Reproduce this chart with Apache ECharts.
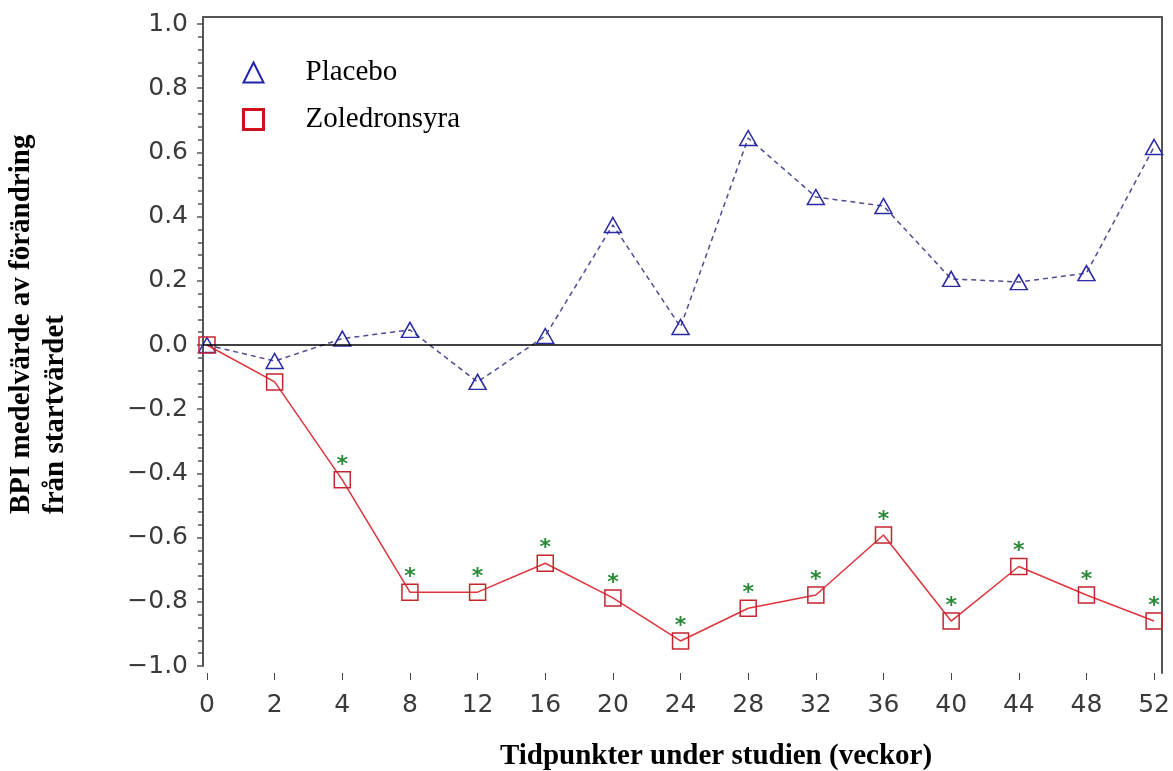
<!DOCTYPE html>
<html>
<head>
<meta charset="utf-8">
<script src="https://cdn.jsdelivr.net/npm/echarts@6/dist/echarts.min.js"></script>
<style>
html,body{margin:0;padding:0;background:#fff;}
#chart{width:1173px;height:771px;}
</style>
</head>
<body>
<div id="chart"></div>
<script>
// ---- data ----
const weeks = ['0','2','4','8','12','16','20','24','28','32','36','40','44','48','52'];
const placebo = [0.0, -0.05, 0.02, 0.047, -0.115, 0.028, 0.374, 0.056, 0.645, 0.461, 0.433, 0.206, 0.196, 0.224, 0.617];
const zoledronsyra = [0.0, -0.115, -0.42, -0.77, -0.77, -0.68, -0.788, -0.922, -0.82, -0.779, -0.592, -0.86, -0.69, -0.779, -0.86];
const significant = [false, false, true, true, true, true, true, true, true, true, true, true, true, true, true];
const seriesNames = ['Placebo', 'Zoledronsyra'];
const yMin = -1.0, yMax = 1.0, yStep = 0.2;
const xTitle = 'Tidpunkter under studien (veckor)';
const yTitle1 = 'BPI medelvärde av förändring';
const yTitle2 = 'från startvärdet';

// ---- chart ----
const idx = weeks.map((w, i) => i);
const X_MIN = -0.059, X_MAX = weeks.length - 1 + 0.103;
const tickFont = {fontFamily: 'DejaVu Sans', fontSize: 25, fontWeight: 'normal', color: '#3a3a3a'};
const frameLine = {show: true, onZero: false, lineStyle: {color: '#555', width: 2}};
const noAxisBits = {axisTick: {show: false}, axisLabel: {show: false}, splitLine: {show: false}};

const chart = echarts.init(document.getElementById('chart'), null, {renderer: 'canvas'});
const option = {
  animation: false,
  backgroundColor: '#fff',
  grid: [
    {left: 203, right: 11, top: 24, bottom: 105},
    {left: 203, right: 11, top: 17, bottom: 105},
    {left: 203, right: 11, top: 17, bottom: 98}
  ],
  xAxis: [
    {
      gridIndex: 0, type: 'value', min: X_MIN, max: X_MAX, offset: 7,
      axisLine: {show: false, onZero: false}, splitLine: {show: false},
      axisTick: {show: true, customValues: idx, length: 7, lineStyle: {color: '#444', width: 1}},
      axisLabel: Object.assign({customValues: idx, margin: 20, formatter: v => weeks[Math.round(v)]}, tickFont)
    },
    Object.assign({gridIndex: 1, type: 'value', position: 'top', axisLine: frameLine}, noAxisBits),
    {gridIndex: 2, type: 'value', show: false, axisLine: {onZero: false}}
  ],
  yAxis: [
    {
      gridIndex: 0, type: 'value', min: yMin, max: yMax, interval: yStep,
      axisLine: {show: false, onZero: false}, splitLine: {show: false},
      axisTick: {show: true, length: 6, lineStyle: {color: '#555', width: 1.5}},
      minorTick: {show: true, splitNumber: 5, length: 5, lineStyle: {color: '#555', width: 1.5}},
      axisLabel: Object.assign({margin: 15, formatter: v => v.toFixed(1).replace('-', '\u2212')}, tickFont)
    },
    Object.assign({gridIndex: 1, type: 'value', position: 'left', axisLine: frameLine}, noAxisBits),
    Object.assign({gridIndex: 2, type: 'value', position: 'right', axisLine: frameLine}, noAxisBits)
  ],
  legend: {
    orient: 'vertical', left: 237, top: 53, itemGap: 18, itemWidth: 20, itemHeight: 20,
    selectedMode: false,
    textStyle: {fontFamily: 'Liberation Serif', fontSize: 29, color: '#000', padding: [0, 0, 0, 37]},
    data: [
      {name: seriesNames[0], icon: 'triangle', itemStyle: {color: 'rgba(0,0,0,0)', borderColor: '#2222b0', borderWidth: 2}},
      {name: seriesNames[1], icon: 'rect', itemStyle: {color: 'rgba(0,0,0,0)', borderColor: '#d0101c', borderWidth: 3}}
    ]
  },
  graphic: [
    {type: 'text', x: 716, y: 757, style: {text: xTitle, fontFamily: 'Liberation Serif', fontWeight: 'bold', fontSize: 29, fill: '#000', align: 'center', verticalAlign: 'middle'}},
    {type: 'text', x: 22, y: 514, rotation: Math.PI / 2, style: {text: yTitle1, fontFamily: 'Liberation Serif', fontWeight: 'bold', fontSize: 29, fill: '#000', align: 'left', verticalAlign: 'middle'}},
    {type: 'text', x: 56, y: 514, rotation: Math.PI / 2, style: {text: yTitle2, fontFamily: 'Liberation Serif', fontWeight: 'bold', fontSize: 29, fill: '#000', align: 'left', verticalAlign: 'middle'}}
  ],
  series: [
    {
      name: seriesNames[0], type: 'line', xAxisIndex: 0, yAxisIndex: 0,
      data: placebo.map((v, i) => [i, v]),
      symbol: 'triangle', symbolSize: [17, 15],
      itemStyle: {color: 'rgba(0,0,0,0)', borderColor: '#2a2aa6', borderWidth: 1.5},
      lineStyle: {color: '#4c4c94', width: 1.5, type: [5, 4]},
      emphasis: {disabled: true},
      markLine: {
        silent: true, symbol: 'none', label: {show: false},
        lineStyle: {color: '#000', width: 1.5, type: 'solid'},
        data: [{yAxis: 0}]
      },
      z: 3
    },
    {
      name: seriesNames[1], type: 'line', xAxisIndex: 0, yAxisIndex: 0,
      data: zoledronsyra.map((v, i) => [i, v]),
      symbol: 'rect', symbolSize: 16,
      itemStyle: {color: 'rgba(0,0,0,0)', borderColor: '#c42630', borderWidth: 1.5},
      lineStyle: {color: '#e0343c', width: 1.5},
      emphasis: {disabled: true},
      label: {
        show: true, position: 'top', distance: -5,
        formatter: p => significant[p.dataIndex] ? '*' : '',
        color: '#2a8a3a', fontFamily: 'DejaVu Sans', fontWeight: 'bold', fontSize: 22
      },
      z: 4
    }
  ]
};
chart.setOption(option);
</script>
</body>
</html>
